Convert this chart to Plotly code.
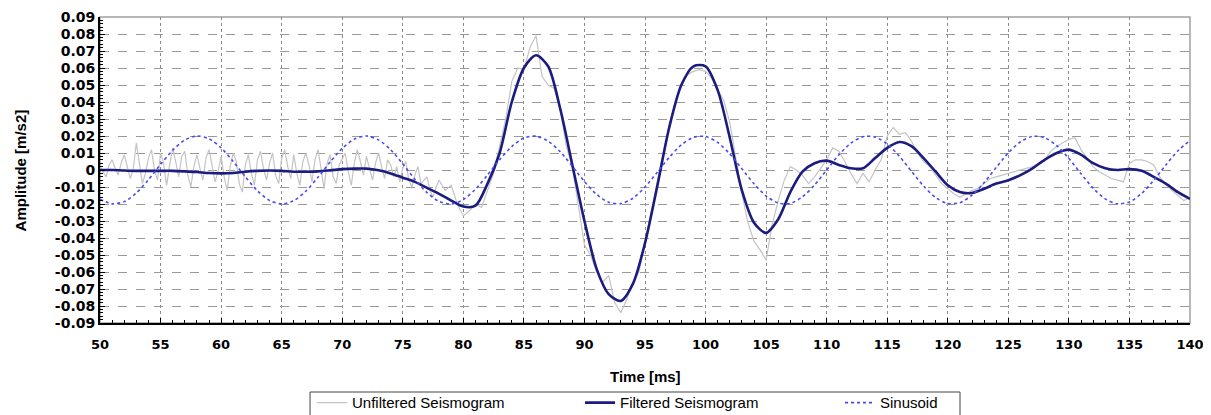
import numpy as np
import plotly.graph_objects as go

# ---------------- data ----------------
time_ms = list(range(50, 141))  # 1 ms grid for filtered + sinusoid

filtered = [
    0.0, 0.0, -0.0003, -0.0005, -0.0005, -0.0005, -0.0005, -0.0008, -0.0012, -0.0018,   # 50-59
    -0.002, -0.0018, -0.001, -0.0005, -0.0003, -0.0005, -0.001, -0.001, -0.0008, -0.0002,  # 60-69
    0.0005, 0.0008, 0.0008, -0.0002, -0.002, -0.0045, -0.007, -0.0105, -0.014, -0.018,   # 70-79
    -0.0215, -0.021, -0.008, 0.010, 0.040, 0.060, 0.0675, 0.061, 0.036, 0.003,           # 80-89
    -0.030, -0.058, -0.073, -0.077, -0.067, -0.043, -0.010, 0.025, 0.050, 0.061,          # 90-99
    0.061, 0.047, 0.019, -0.012, -0.031, -0.037, -0.029, -0.013, -0.001, 0.004,           # 100-109
    0.0055, 0.003, 0.001, 0.001, 0.007, 0.013, 0.0165, 0.014, 0.007, -0.001,              # 110-119
    -0.009, -0.013, -0.0135, -0.011, -0.008, -0.006, -0.003, 0.001, 0.006, 0.010,         # 120-129
    0.012, 0.009, 0.004, 0.001, 0.0, 0.0005, -0.0005, -0.004, -0.008, -0.013,             # 130-139
    -0.017,                                                                               # 140
]

sinusoid = [
    -0.0172, -0.0199, -0.0186, -0.0135, -0.0057, 0.0033, 0.0116, 0.0176, 0.0200, 0.0184,  # 50-59
    0.0130, 0.0050, -0.0040, -0.0122, -0.0179, -0.0200, -0.0180, -0.0124, -0.0043, 0.0047,  # 60-69
    0.0127, 0.0182, 0.0200, 0.0177, 0.0119, 0.0036, -0.0054, -0.0133, -0.0185, -0.0200,    # 70-79
    -0.0174, -0.0113, -0.0029, 0.0061, 0.0138, 0.0188, 0.0199, 0.0170, 0.0107, 0.0022,     # 80-89
    -0.0068, -0.0143, -0.0190, -0.0198, -0.0166, -0.0100, -0.0014, 0.0074, 0.0148, 0.0192,  # 90-99
    0.0197, 0.0162, 0.0094, 0.0007, -0.0081, -0.0153, -0.0194, -0.0196, -0.0158, -0.0088,   # 100-109
    0.0000, 0.0088, 0.0158, 0.0196, 0.0194, 0.0153, 0.0081, -0.0007, -0.0094, -0.0162,     # 110-119
    -0.0197, -0.0192, -0.0148, -0.0074, 0.0015, 0.0101, 0.0166, 0.0198, 0.0190, 0.0143,    # 120-129
    0.0068, -0.0022, -0.0107, -0.0170, -0.0199, -0.0188, -0.0138, -0.0061, 0.0029, 0.0113,  # 130-139
    0.0174,                                                                                # 140
]

# Unfiltered seismogram, in thousandths of m/s2
# 50.00 - 77.75 ms, every 0.25 ms (one group per ms)
unfiltered_early_milli = [
    2, -1, -4, 3,    6, 1, -3, 4,     9, 2, -5, 1,     16, 4, -8, -2,   7, 12, 0, -6,
    10, 4, -9, 3,    13, 5, -4, 8,    11, -3, -10, 2,  9, 1, -6, 7,     12, 3, -7, -1,
    8, -4, -12, 2,   10, 5, -8, -13,  3, 9, -2, -9,    6, 11, 1, -6,    4, 10, -3, -8,
    7, 12, 2, -5,    9, -2, -9, 5,    10, 3, -7, 6,    12, 1, -11, 4,   9, -4, -8, 3,
    7, 10, -1, -9,   4, 12, 5, -3,    8, 1, -6, 4,     10, 2, -5, 6,    3, -4, 2, -7,
    1, 5, -6, -10,   -3, 2, -8, -6,   -4, -12, -16, -10,
]
# 78.0 - 140.0 ms, every 0.5 ms
unfiltered_late_milli = [
    -6, -12, -9, -20,
    -27, -24, -20, -22, -12, -2, 14, 30, 52, 60,
    59, 72, 79, 55, 50, 48, 36, 14, 2, -22,
    -44, -50, -60, -66, -62, -78, -84, -76, -66, -60,
    -42, -24, -8, 10, 26, 40, 50, 56, 58, 59,
    58, 54, 47, 41, 28, 8, -14, -31, -42, -47,
    -53, -32, -18, -6, 2, 0, -3, -8, -4, 1,
    6, 13, 11, 5, -2, -8, -2, -7, 0, 6,
    20, 25, 21, 22, 17, 10, 5, 2, -3, -8,
    -11, -14, -16, -14, -12, -11, -8, -5, -4, -3,
    -2, -1, 0, 1, 2, 4, 6, 11, 14, 16,
    18, 19, 12, 7, 2, -1, -3, -5, -6, -7,
    4, 6, 6, 5, 3, -4, -8, -12, -15, -18,
    -16,
]

x_ticks = list(range(50, 141, 5))
y_tick_values = [0.09, 0.08, 0.07, 0.06, 0.05, 0.04, 0.03, 0.02, 0.01, 0.0,
                 -0.01, -0.02, -0.03, -0.04, -0.05, -0.06, -0.07, -0.08, -0.09]
y_tick_labels = ["0.09", "0.08", "0.07", "0.06", "0.05", "0.04", "0.03", "0.02", "0.01", "0",
                 "-0.01", "-0.02", "-0.03", "-0.04", "-0.05", "-0.06", "-0.07", "-0.08", "-0.09"]

# ---------------- build ----------------
unf_t = [50 + 0.25 * i for i in range(len(unfiltered_early_milli))] + \
        [78 + 0.5 * i for i in range(len(unfiltered_late_milli))]
unf_v = [v / 1000 for v in unfiltered_early_milli + unfiltered_late_milli]

fig = go.Figure()
fig.add_trace(go.Scatter(x=unf_t, y=unf_v, mode="lines", name="Unfiltered Seismogram",
                         line=dict(color="#c4c4c4", width=1.2), legend="legend"))
fig.add_trace(go.Scatter(x=time_ms, y=filtered, mode="lines", name="Filtered Seismogram",
                         line=dict(color="#1b1b80", width=2.6, shape="spline", smoothing=0.8),
                         legend="legend2"))
fig.add_trace(go.Scatter(x=time_ms, y=sinusoid, mode="lines", name="Sinusoid",
                         line=dict(color="#4a4af0", width=1.6, dash="dot", shape="spline", smoothing=0.8),
                         legend="legend3"))

tick_font = dict(family="DejaVu Sans", size=13, color="black", weight="bold")

fig.update_xaxes(range=[50, 140], tickmode="array", tickvals=x_ticks,
                 showline=True, linecolor="black", linewidth=2,
                 ticks="inside", ticklen=5, tickcolor="black", tickwidth=1,
                 minor=dict(tick0=50, dtick=1, ticks="inside", ticklen=3, tickcolor="black", showgrid=False),
                 showgrid=True, gridcolor="#8a8a8a", gridwidth=1, griddash="dot",
                 zeroline=False, tickfont=tick_font, ticklabelstandoff=8)
fig.update_yaxes(range=[-0.09, 0.09], tickmode="array", tickvals=y_tick_values, ticktext=y_tick_labels,
                 showline=True, linecolor="black", linewidth=2,
                 ticks="inside", ticklen=5, tickcolor="black", tickwidth=1,
                 minor=dict(tick0=0, dtick=0.002, ticks="inside", ticklen=3, tickcolor="black", showgrid=False),
                 showgrid=True, gridcolor="#9a9a9a", gridwidth=1.2, griddash="dash",
                 zeroline=False, tickfont=dict(family="DejaVu Sans", size=14, color="black", weight="bold"))

# light frame on top / right of the plot area
fig.add_shape(type="rect", xref="x domain", yref="y domain", x0=0, x1=1, y0=0, y1=1,
              line=dict(color="#a0a0a0", width=1.5), layer="below")
# legend frame (runs off the bottom edge, as in the reference)
fig.add_shape(type="rect", xref="paper", yref="paper", x0=0.1927, x1=0.789, y0=-0.2255, y1=-0.40,
              line=dict(color="#444", width=1), fillcolor="white", layer="below")

fig.add_annotation(text="<b>Time [ms]</b>", xref="paper", yref="paper", x=0.5, y=-0.175,
                   showarrow=False, font=dict(family="Liberation Sans", size=15, color="black"),
                   xanchor="center", yanchor="middle")
fig.add_annotation(text="<b>Amplitude [m/s2]</b>", xref="paper", yref="paper", x=-0.073, y=0.5,
                   showarrow=False, textangle=-90,
                   font=dict(family="Liberation Sans Narrow, Liberation Sans", size=15, color="black"),
                   xanchor="center", yanchor="middle")

leg_common = dict(orientation="h", xanchor="left", yanchor="middle", y=-0.261,
                  borderwidth=0, bgcolor="rgba(0,0,0,0)",
                  font=dict(family="Liberation Sans", size=15, color="black"))

# the page body has an 8 px offset, so the figure is 8 px smaller than the window
fig.update_layout(
    width=1203, height=407,
    margin=dict(l=92, r=21, t=9, b=92, autoexpand=False),
    plot_bgcolor="white", paper_bgcolor="white",
    showlegend=True,
    legend=dict(x=0.1945, **leg_common),
    legend2=dict(x=0.4404, **leg_common),
    legend3=dict(x=0.6789, **leg_common),
)

fig.write_html("out.html")
